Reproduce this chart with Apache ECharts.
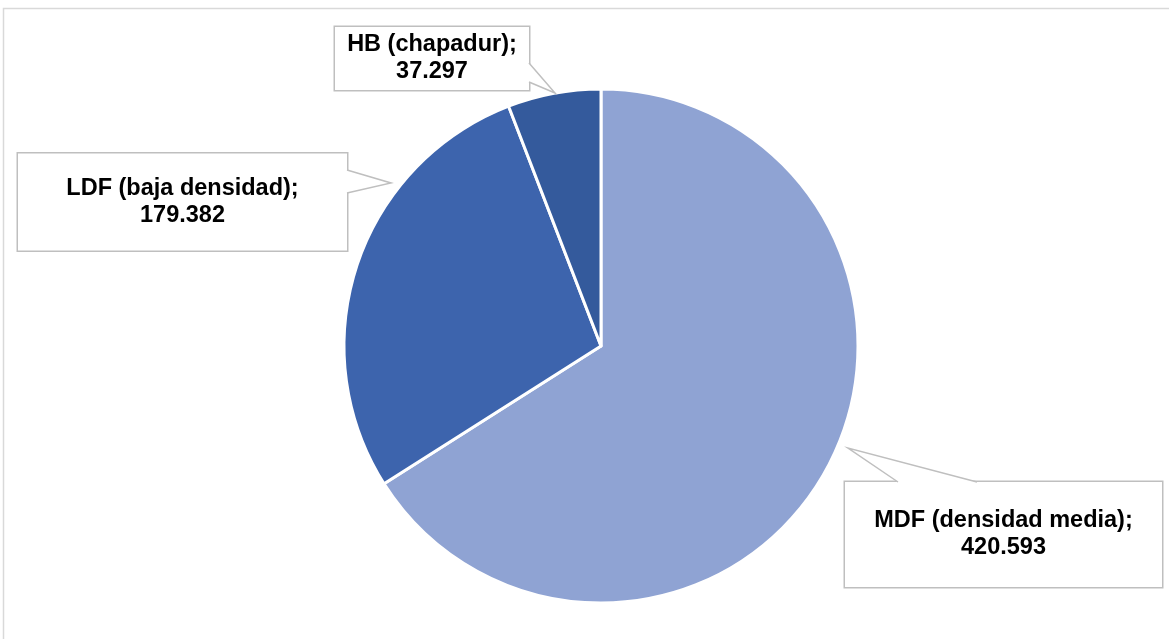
<!DOCTYPE html>
<html lang="es">
<head>
<meta charset="UTF-8">
<title>Tableros</title>
<script src="https://cdn.jsdelivr.net/npm/echarts@6/dist/echarts.min.js"></script>
<style>
  html, body { margin: 0; padding: 0; background: #fff; }
  #main { width: 1169px; height: 639px; }
</style>
</head>
<body>
<div id="main"></div>
<script>
// datos
var categories = ['MDF (densidad media)', 'LDF (baja densidad)', 'HB (chapadur)'];
var values = [420.593, 179.382, 37.297];
var valueLabels = ['420.593', '179.382', '37.297'];
var colors = ['#8FA3D3', '#3D64AD', '#345A9C'];

// posicion de las cajas de texto (centro, ancho, alto)
var boxes = [
  { cx: 1003.5, cy: 534.5, w: 317, h: 105 },
  { cx: 182.5, cy: 202, w: 329, h: 97 },
  { cx: 432, cy: 58.5, w: 194, h: 63 }
];
// colas de las cajas: dos puntos de base y la punta
var tails = [
  [[898, 482], [848, 448], [977, 482]],
  [[347, 170], [391, 183], [347, 193]],
  [[529, 63], [555, 93], [529, 82]]
];

var LINE_H = 27;

var myChart = echarts.init(document.getElementById('main'));

var pieData = categories.map(function (name, i) {
  var b = boxes[i];
  var pad = (b.h - 2 * LINE_H) / 2;
  return {
    name: name,
    value: values[i],
    itemStyle: { color: colors[i] },
    label: {
      width: b.w,
      height: 2 * LINE_H,
      padding: [pad, 0, pad, 0]
    }
  };
});

var graphics = [{
  type: 'rect',
  silent: true,
  shape: { x: 3.5, y: 8.5, width: 1300, height: 800 },
  style: { fill: 'none', stroke: '#d9d9d9', lineWidth: 1.5 }
}];
tails.forEach(function (t) {
  graphics.push({
    type: 'polygon',
    silent: true,
    z: 100,
    shape: { points: t },
    style: { fill: '#fff', stroke: null }
  });
  graphics.push({
    type: 'polyline',
    silent: true,
    z: 101,
    shape: { points: t },
    style: { fill: null, stroke: '#bfbfbf', lineWidth: 1.5 }
  });
});

var option = {
  animation: false,
  graphic: graphics,
  series: [{
    type: 'pie',
    center: [601, 346],
    radius: 257,
    startAngle: 90,
    clockwise: true,
    data: pieData,
    itemStyle: { borderColor: '#fff', borderWidth: 3 },
    label: {
      show: true,
      position: 'outside',
      formatter: function (p) {
        return p.name + ';\n' + valueLabels[p.dataIndex];
      },
      fontFamily: 'Liberation Sans, Arial, sans-serif',
      fontWeight: 'bold',
      fontSize: 23.5,
      lineHeight: LINE_H,
      color: '#000',
      align: 'center',
      backgroundColor: '#fff',
      borderColor: '#bfbfbf',
      borderWidth: 1.5
    },
    labelLine: { show: false },
    labelLayout: function (params) {
      var b = boxes[params.dataIndex];
      return {
        x: b.cx,
        y: b.cy,
        align: 'center',
        verticalAlign: 'middle'
      };
    }
  }]
};
myChart.setOption(option);
</script>
</body>
</html>
